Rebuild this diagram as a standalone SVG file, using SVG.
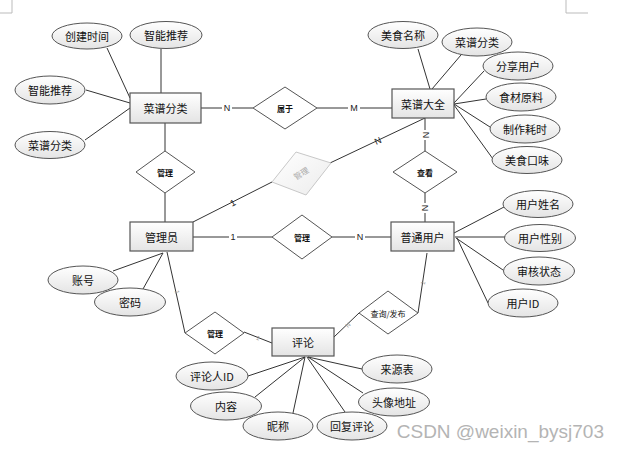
<svg xmlns="http://www.w3.org/2000/svg" width="620" height="450" viewBox="0 0 620 450">
<defs>
<linearGradient id="g" x1="0" y1="0" x2="0" y2="1">
<stop offset="0" stop-color="#ffffff"/>
<stop offset="1" stop-color="#e4e4e4"/>
</linearGradient>
<linearGradient id="gf" x1="0" y1="0" x2="1" y2="1">
<stop offset="0" stop-color="#ffffff"/>
<stop offset="1" stop-color="#ececec"/>
</linearGradient>
</defs>
<style>
.ent{fill:url(#g);stroke:#555;stroke-width:1.2}
.att{fill:url(#g);stroke:#555;stroke-width:1}
.rel{fill:#fff;stroke:#555;stroke-width:1}
.t{font-family:"Noto Sans CJK SC","Liberation Sans",sans-serif;font-size:11px;fill:#111;text-anchor:middle;dominant-baseline:central}
.rt{font-family:"Noto Sans CJK SC","Liberation Sans",sans-serif;font-size:8px;font-weight:bold;fill:#111;text-anchor:middle;dominant-baseline:central}
.c line{stroke:#333;stroke-width:1}
.lb{font-family:"Liberation Sans",sans-serif;font-size:9px;fill:#222;text-anchor:middle;dominant-baseline:central}
.lbs{font-family:"Liberation Sans",sans-serif;font-size:6px;fill:#999;text-anchor:middle;dominant-baseline:central}
</style>
<rect width="620" height="450" fill="#fff"/>
<g id="marks" stroke="#bbb" fill="none" stroke-width="1">
<path d="M12,0 V13 H0"/>
<path d="M566,0 V13 H588"/>
</g>
<g class="c" id="connectors">
<line x1="107" y1="48" x2="130" y2="98"/>
<line x1="161" y1="49" x2="161" y2="93"/>
<line x1="86" y1="90" x2="130" y2="103"/>
<line x1="85" y1="140" x2="130" y2="108"/>
<line x1="201" y1="108" x2="253" y2="108"/>
<line x1="317" y1="108" x2="392" y2="108"/>
<line x1="165" y1="123" x2="165" y2="151"/>
<line x1="165" y1="193" x2="165" y2="222"/>
<line x1="193" y1="222" x2="272" y2="182"/>
<line x1="330" y1="163" x2="425" y2="118"/>
<line x1="425" y1="118" x2="425" y2="151"/>
<line x1="425" y1="193" x2="425" y2="222"/>
<line x1="193" y1="237" x2="272" y2="237"/>
<line x1="332" y1="237" x2="391" y2="237"/>
<line x1="418" y1="49" x2="430" y2="89"/>
<line x1="461" y1="55" x2="432" y2="89"/>
<line x1="484" y1="71" x2="454" y2="103"/>
<line x1="486" y1="99" x2="454" y2="104"/>
<line x1="490" y1="127" x2="454" y2="104"/>
<line x1="493" y1="159" x2="454" y2="105"/>
<line x1="454" y1="233" x2="504" y2="207"/>
<line x1="455" y1="237" x2="505" y2="237"/>
<line x1="456" y1="238" x2="503" y2="270"/>
<line x1="457" y1="238" x2="488" y2="303"/>
<line x1="163" y1="253" x2="113" y2="271"/>
<line x1="163" y1="253" x2="143" y2="289"/>
<line x1="167" y1="252" x2="185" y2="333"/>
<line x1="244" y1="332" x2="272" y2="343"/>
<line x1="334" y1="337" x2="359" y2="313"/>
<line x1="418" y1="313" x2="427" y2="253"/>
<line x1="305" y1="357" x2="248" y2="376"/>
<line x1="305" y1="357" x2="255" y2="397"/>
<line x1="305" y1="357" x2="293" y2="413"/>
<line x1="307" y1="357" x2="345" y2="412"/>
<line x1="308" y1="357" x2="362" y2="369"/>
<line x1="308" y1="357" x2="363" y2="393"/>
<g id="card-labels">
<rect x="222" y="102" width="10" height="12" fill="#fff"/>
<text class="lb" x="227" y="108">N</text>
<rect x="348" y="102" width="12" height="12" fill="#fff"/>
<text class="lb" x="354" y="108">M</text>
<text class="lb" x="233" y="203" transform="rotate(-27 233 203)">1</text>
<text class="lb" x="378" y="141" transform="rotate(-25 378 141)">N</text>
<rect x="420" y="130" width="10" height="10" fill="#fff"/>
<text class="lb" x="426" y="135" transform="rotate(90 426 135)">N</text>
<rect x="420" y="203" width="10" height="10" fill="#fff"/>
<text class="lb" x="425" y="208" transform="rotate(90 425 208)">N</text>
<rect x="229" y="231" width="8" height="12" fill="#fff"/>
<text class="lb" x="233" y="237">1</text>
<rect x="355" y="231" width="10" height="12" fill="#fff"/>
<text class="lb" x="360" y="237">N</text>
<text class="lbs" x="177" y="292" transform="rotate(78 177 292)">1</text>
<text class="lbs" x="258" y="338" transform="rotate(22 258 338)">1</text>
<text class="lbs" x="348" y="325" transform="rotate(-45 348 325)">N</text>
<text class="lbs" x="423" y="283" transform="rotate(-80 423 283)">1</text>
</g>
</g>
<g id="e-caipufenlei"><rect class="ent" x="130" y="93" width="71" height="30"/><text class="t" x="165.5" y="108">菜谱分类</text></g>
<g id="e-caipudaquan"><rect class="ent" x="392" y="89" width="62" height="29"/><text class="t" x="423" y="103.5">菜谱大全</text></g>
<g id="e-guanliyuan"><rect class="ent" x="130" y="222" width="63" height="29"/><text class="t" x="161.5" y="236.5">管理员</text></g>
<g id="e-putongyonghu"><rect class="ent" x="391" y="222" width="63" height="29"/><text class="t" x="422.5" y="236.5">普通用户</text></g>
<g id="e-pinglun"><rect class="ent" x="272" y="328" width="62" height="28"/><text class="t" x="303" y="342">评论</text></g>
<g id="a1"><ellipse class="att" cx="87" cy="36" rx="35" ry="13"/><text class="t" x="87" y="36">创建时间</text></g>
<g id="a2"><ellipse class="att" cx="166" cy="35" rx="36" ry="13.5"/><text class="t" x="166" y="35">智能推荐</text></g>
<g id="a3"><ellipse class="att" cx="50" cy="90" rx="35" ry="14"/><text class="t" x="50" y="90">智能推荐</text></g>
<g id="a4"><ellipse class="att" cx="50" cy="145" rx="35" ry="13.5"/><text class="t" x="50" y="145">菜谱分类</text></g>
<g id="a5"><ellipse class="att" cx="403" cy="35" rx="35" ry="13.5"/><text class="t" x="403" y="35">美食名称</text></g>
<g id="a6"><ellipse class="att" cx="477" cy="42" rx="35" ry="14"/><text class="t" x="477" y="42">菜谱分类</text></g>
<g id="a7"><ellipse class="att" cx="518" cy="66" rx="35" ry="14"/><text class="t" x="518" y="66">分享用户</text></g>
<g id="a8"><ellipse class="att" cx="521" cy="97" rx="35" ry="14"/><text class="t" x="521" y="97">食材原料</text></g>
<g id="a9"><ellipse class="att" cx="525" cy="129" rx="35" ry="14"/><text class="t" x="525" y="129">制作耗时</text></g>
<g id="a10"><ellipse class="att" cx="527" cy="160" rx="35" ry="13.5"/><text class="t" x="527" y="160">美食口味</text></g>
<g id="a11"><ellipse class="att" cx="538" cy="204" rx="35" ry="13.5"/><text class="t" x="538" y="204">用户姓名</text></g>
<g id="a12"><ellipse class="att" cx="540" cy="238" rx="35.5" ry="13.5"/><text class="t" x="540" y="238">用户性别</text></g>
<g id="a13"><ellipse class="att" cx="539" cy="271" rx="35.5" ry="14"/><text class="t" x="539" y="271">审核状态</text></g>
<g id="a14"><ellipse class="att" cx="523" cy="303" rx="35" ry="14"/><text class="t" x="523" y="303">用户ID</text></g>
<g id="a15"><ellipse class="att" cx="83" cy="280" rx="35" ry="14"/><text class="t" x="83" y="280">账号</text></g>
<g id="a16"><ellipse class="att" cx="130" cy="302" rx="35.5" ry="14"/><text class="t" x="130" y="302">密码</text></g>
<g id="a17"><ellipse class="att" cx="212" cy="376" rx="36" ry="14"/><text class="t" x="212" y="376">评论人ID</text></g>
<g id="a18"><ellipse class="att" cx="226" cy="406" rx="35.5" ry="14"/><text class="t" x="226" y="406">内容</text></g>
<g id="a19"><ellipse class="att" cx="278" cy="426" rx="35" ry="14"/><text class="t" x="278" y="426">昵称</text></g>
<g id="a20"><ellipse class="att" cx="352" cy="426" rx="35" ry="14"/><text class="t" x="352" y="426">回复评论</text></g>
<g id="a21"><ellipse class="att" cx="397" cy="369" rx="35" ry="14"/><text class="t" x="397" y="369">来源表</text></g>
<g id="a22"><ellipse class="att" cx="394" cy="402" rx="35.5" ry="14"/><text class="t" x="394" y="402">头像地址</text></g>
<g id="r-shuyu"><polygon class="rel" points="253,108 285,87 317,108 285,129"/><text class="rt" x="285" y="108">属于</text></g>
<g id="r-guanli1"><polygon class="rel" points="136,172 165,151 195,172 165,193"/><text class="rt" x="165" y="172">管理</text></g>
<g id="r-guanli-faded"><polygon points="272,182 296,152 331,163 306,195" fill="url(#gf)" stroke="#c8c8c8" stroke-width="1"/><text class="rt" x="301" y="173" fill="#aaa" style="fill:#aaa;font-weight:normal" transform="rotate(-32 301 173)">管理</text></g>
<g id="r-chakan"><polygon class="rel" points="393,172 425,151 457,172 425,193"/><text class="rt" x="425" y="172">查看</text></g>
<g id="r-guanli2"><polygon class="rel" points="272,237 302,215 332,237 302,259"/><text class="rt" x="302" y="237">管理</text></g>
<g id="r-guanli3"><polygon class="rel" points="185,333 215,312 244,333 215,354"/><text class="rt" x="215" y="333">管理</text></g>
<g id="r-chaxun"><polygon class="rel" points="359,313 388,291 418,313 388,334"/><text class="rt" x="388" y="313" style="font-weight:normal">查询/发布</text></g>
<text x="604" y="438" font-family="'Liberation Sans',Arial,sans-serif" font-size="19" fill="#b4b4b4" text-anchor="end">CSDN @weixin_bysj703</text>
</svg>
